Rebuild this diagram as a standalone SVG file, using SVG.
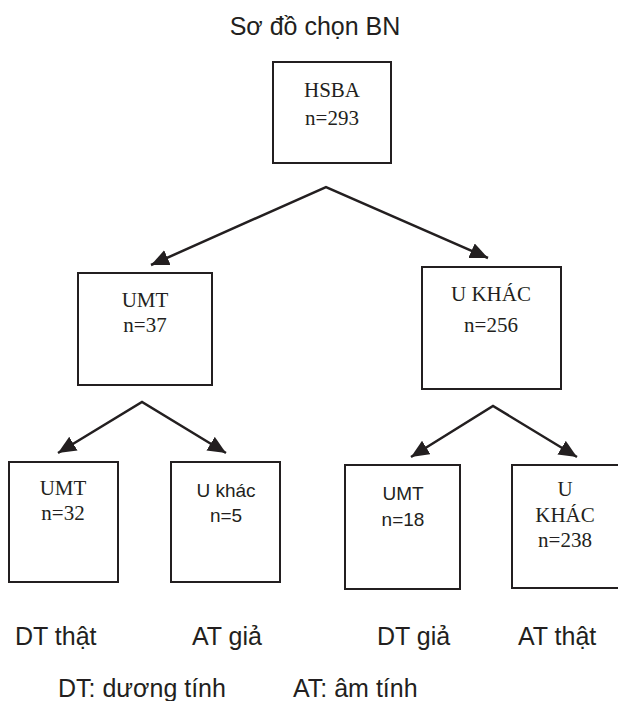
<svg xmlns="http://www.w3.org/2000/svg" width="618" height="701" viewBox="0 0 618 701">
<defs>
<style>
.box{fill:#fff;stroke:#231f20;stroke-width:2}
.serif{font-family:"Liberation Serif","Times New Roman",serif;font-size:21px;fill:#231f20;text-anchor:middle}
.sans{font-family:"Liberation Sans",Arial,sans-serif;font-size:19px;fill:#231f20;text-anchor:middle}
.lbl{font-family:"Liberation Sans",Arial,sans-serif;font-size:25px;fill:#231f20}
.conn{fill:none;stroke:#231f20;stroke-width:2.5}
</style>
<marker id="arr" markerUnits="userSpaceOnUse" markerWidth="20" markerHeight="18" refX="18" refY="8" orient="auto-start-reverse">
<path d="M0,0 L18,8 L0,16 z" fill="#231f20"/>
</marker>
</defs>
<rect width="618" height="701" fill="#fff"/>
<text class="lbl" x="315" y="35" text-anchor="middle">Sơ đồ chọn BN</text>
<g id="connectors">
<polyline class="conn" points="151,265 326,187 488,258" marker-start="url(#arr)" marker-end="url(#arr)"/>
<polyline class="conn" points="58,453 142,402 226,453" marker-start="url(#arr)" marker-end="url(#arr)"/>
<polyline class="conn" points="411,457 493,406 577,457" marker-start="url(#arr)" marker-end="url(#arr)"/>
</g>
<g id="hsba">
<rect class="box" x="273" y="62" width="118" height="101"/>
<text class="serif" x="332" y="97">HSBA</text>
<text class="serif" x="332" y="125">n=293</text>
</g>
<g id="umt37">
<rect class="box" x="78" y="273" width="134" height="112"/>
<text class="serif" x="145" y="307">UMT</text>
<text class="serif" x="145" y="332">n=37</text>
</g>
<g id="ukhac256">
<rect class="box" x="422" y="267" width="139" height="122"/>
<text class="serif" x="491" y="301">U KHÁC</text>
<text class="serif" x="491" y="332">n=256</text>
</g>
<g id="umt32">
<rect class="box" x="9" y="462" width="109" height="120"/>
<text class="serif" x="63" y="495">UMT</text>
<text class="serif" x="63" y="520">n=32</text>
</g>
<g id="ukhac5">
<rect class="box" x="171" y="462" width="109" height="120"/>
<text class="sans" x="226" y="497">U khác</text>
<text class="sans" x="226" y="522">n=5</text>
</g>
<g id="umt18">
<rect class="box" x="345" y="465" width="115" height="124"/>
<text class="sans" x="403" y="500">UMT</text>
<text class="sans" x="403" y="526">n=18</text>
</g>
<g id="ukhac238">
<rect class="box" x="512" y="465" width="108" height="123"/>
<text class="serif" x="565" y="496">U</text>
<text class="serif" x="565" y="522">KHÁC</text>
<text class="serif" x="565" y="547">n=238</text>
</g>
<g id="labels">
<text class="lbl" x="15" y="645">DT thật</text>
<text class="lbl" x="192" y="645">AT giả</text>
<text class="lbl" x="377" y="645">DT giả</text>
<text class="lbl" x="518" y="645">AT thật</text>
<text class="lbl" x="58" y="697">DT: dương tính</text>
<text class="lbl" x="293" y="697">AT: âm tính</text>
</g>
</svg>
